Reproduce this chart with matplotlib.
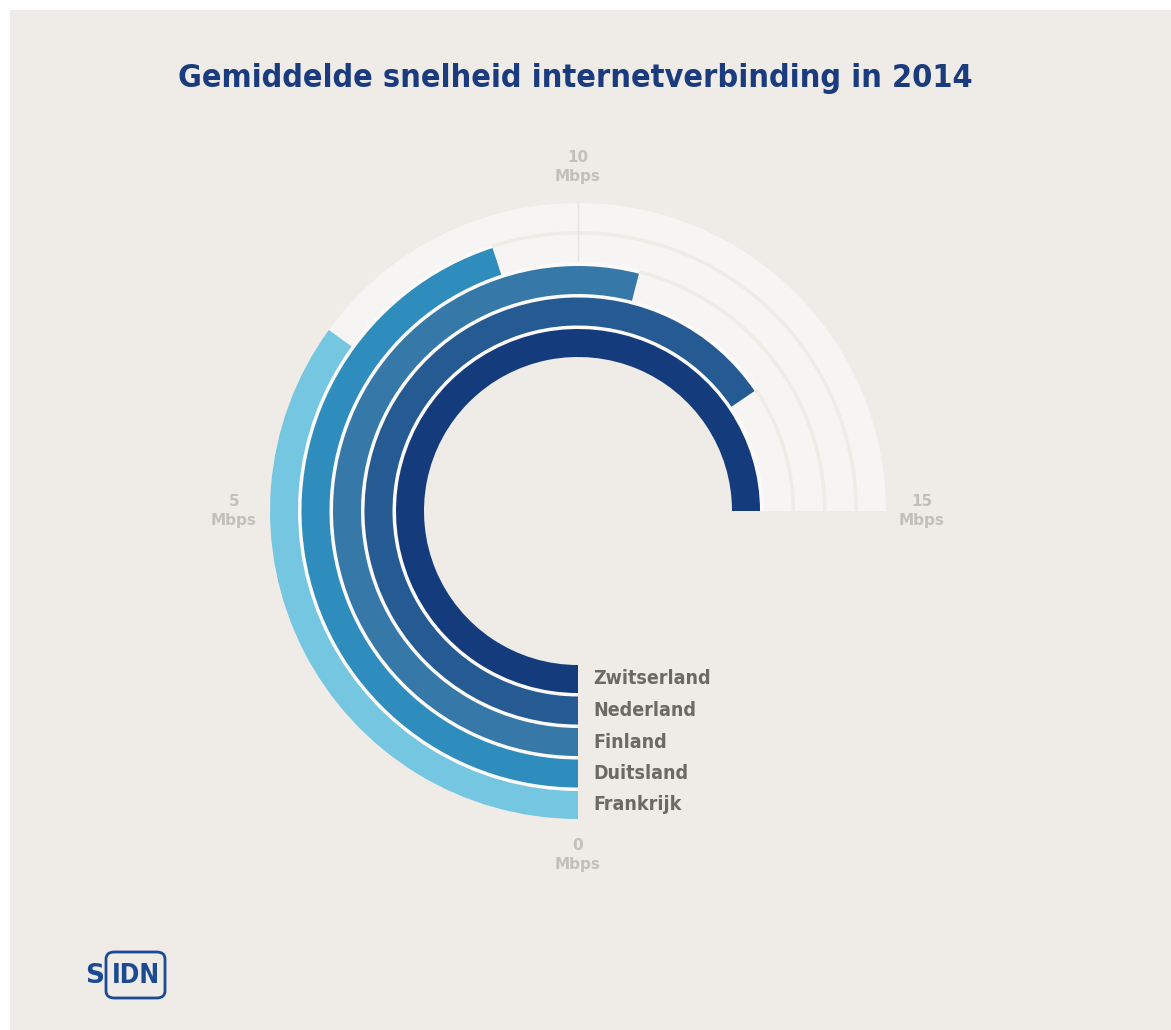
import numpy as np
import matplotlib.pyplot as plt
from matplotlib.patches import Rectangle, FancyBboxPatch

countries = ["Zwitserland", "Nederland", "Finland", "Duitsland", "Frankrijk"]
speeds = [15.0, 13.1, 10.8, 9.0, 7.0]  # Mbps
colors = ["#143c7c", "#255a92", "#3678a7", "#2e8dbd", "#75c6e0"]
tick_values = [0, 5, 10, 15]
tick_labels = ["0\nMbps", "5\nMbps", "10\nMbps", "15\nMbps"]
title = "Gemiddelde snelheid internetverbinding in 2014"

BG = "#efebe6"
TRACK = "#f7f5f3"
max_val = 15.0
full_angle = 1.5 * np.pi  # 15 Mbps = 270 degrees


def to_theta(v):
    return v / max_val * full_angle


W, H = 1171, 1030
fig = plt.figure(figsize=(W / 100, H / 100), dpi=100)
fig.patch.set_facecolor("white")
fig.patches.append(Rectangle((10 / W, 0), 1, 1 - 10 / H, transform=fig.transFigure,
                             facecolor=BG, edgecolor="none", zorder=-10))

# polar axes, 1 data unit = 1 pixel, centre at (578, 511)
cx, cy, R = 578, 511, 330
ax = fig.add_axes([(cx - R) / W, (H - cy - R) / H, 2 * R / W, 2 * R / H], projection="polar")
ax.set_theta_zero_location("S")
ax.set_theta_direction(-1)
ax.set_ylim(0, R)
ax.set_axis_off()
ax.patch.set_alpha(0)

inner0, pitch, ring_w = 154, 31.5, 28
for i, (name, v, c) in enumerate(zip(countries, speeds, colors)):
    r0 = inner0 + i * pitch
    # grey track
    ax.bar(0, ring_w, width=full_angle, bottom=r0, align="edge", color=TRACK,
           edgecolor="none", zorder=1)
    # white gap towards the next ring
    if i < len(countries) - 1:
        ax.bar(0, pitch - ring_w + 1, width=to_theta(v), bottom=r0 + ring_w - 0.5,
               align="edge", color="#fbfaf8", edgecolor="none", zorder=2)
    ax.bar(0, ring_w, width=to_theta(v), bottom=r0, align="edge", color=c,
           edgecolor="none", zorder=3)
    fig.text((cx + 15) / W, 1 - (r0 + ring_w / 2 + cy) / H, name, fontsize=14,
             fontweight="bold", color="#6d6966", ha="left", va="center",
             family="DejaVu Sans", fontstretch="condensed")

r_out = inner0 + 4 * pitch + ring_w
# faint radial grid line at 10 Mbps on the tracks
ax.plot([to_theta(10), to_theta(10)], [inner0, r_out], color="#e6e2dd", lw=1, zorder=1.5)

# scale labels
label_r = r_out + 36
for v, lab in zip(tick_values, tick_labels):
    ax.text(to_theta(v), label_r, lab, ha="center", va="center", fontsize=11,
            fontweight="bold", color="#c3bfbb", linespacing=1.25, zorder=5)

fig.text(575 / W, 1 - 78 / H, title, ha="center", va="center", fontsize=23.2,
         fontweight="bold", color="#1a3c7e", fontstretch="condensed")

# SIDN logo
fig.patches.append(FancyBboxPatch((106 / W, 1 - 998 / H), 59 / W, 46 / H,
                                  boxstyle="round,pad=0,rounding_size=0.007",
                                  transform=fig.transFigure, facecolor="none",
                                  edgecolor="#1b4a92", lw=2))
fig.text(104 / W, 1 - 976 / H, "S", fontsize=19, fontweight="bold", color="#1b4a92",
         ha="right", va="center")
fig.text(136 / W, 1 - 976 / H, "IDN", fontsize=19, fontweight="bold", color="#1b4a92",
         ha="center", va="center", fontstretch="condensed")

fig.savefig("out.png", dpi=100, facecolor=fig.get_facecolor())
